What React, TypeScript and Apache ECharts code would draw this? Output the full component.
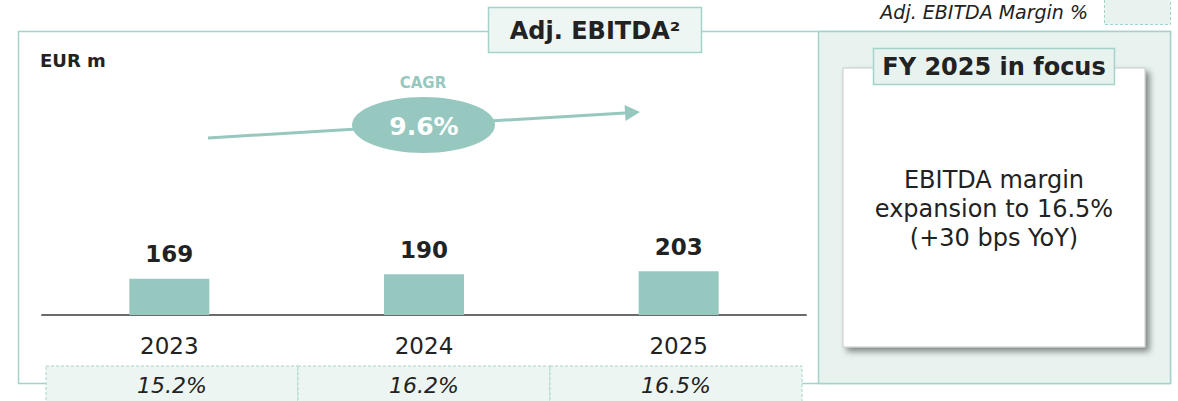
import React, { useEffect, useRef } from "react";
import * as echarts from "echarts";

const categories = ["2023", "2024", "2025"];
const ebitda = [169, 190, 203];
const margins = [15.2, 16.2, 16.5];
const cagrLabel = "CAGR";
const cagrValue = "9.6%";
const titleText = "Adj. EBITDA²";
const unitText = "EUR m";
const legendText = "Adj. EBITDA Margin %";
const focusTitle = "FY 2025 in focus";
const focusBody = ["EBITDA margin", "expansion to 16.5%", "(+30 bps YoY)"];

const FONT = '"DejaVu Sans", Verdana, sans-serif';
const TEAL = "#96c8c0";
const BORDER = "#a3d4ca";
const TXT = "#222222";

export default function App() {
  const ref = useRef<HTMLDivElement>(null);
  useEffect(() => {
    document.body.style.margin = "0";
    const chart = echarts.init(ref.current!, undefined, { renderer: "svg" });

    // arrow geometry
    const x1 = 208, y1 = 138, tx = 640, ty = 112;
    const dx = tx - x1, dy = ty - y1;
    const len = Math.sqrt(dx * dx + dy * dy);
    const ux = dx / len, uy = dy / len;
    const hl = 15, hw = 8;
    const bx = tx - ux * hl, by = ty - uy * hl;
    const px = -uy, py = ux;

    chart.setOption({
      animation: false,
      textStyle: { fontFamily: FONT },
      grid: { left: 42, right: 372, top: 100, bottom: 86 },
      xAxis: {
        type: "category",
        data: categories,
        axisLine: { lineStyle: { color: "#6b6b6b", width: 2 } },
        axisTick: { show: false },
        axisLabel: { fontSize: 23, color: TXT, margin: 19, fontFamily: FONT },
      },
      yAxis: { type: "value", min: 0, max: 1000, show: false, splitLine: { show: false } },
      series: [
        {
          type: "bar",
          data: ebitda,
          barWidth: 80,
          itemStyle: { color: TEAL },
          label: {
            show: true,
            position: "top",
            distance: 13,
            fontSize: 23,
            fontWeight: "bold",
            color: TXT,
            fontFamily: FONT,
          },
          z: 3,
        },
        {
          type: "custom",
          data: margins.map((m, i) => [i, m]),
          z: 4,
          renderItem: (params: any, api: any) => {
            const idx = api.value(0);
            const c = api.coord([idx, 0]);
            const bw = api.size([1, 0])[0];
            const inset = 4;
            const w = bw - (2 * inset) / 3;
            const gridLeft = c[0] - bw / 2 - idx * bw;
            const left = gridLeft + inset + idx * w;
            return {
              type: "group",
              children: [
                {
                  type: "rect",
                  shape: { x: left, y: c[1] + 51, width: w, height: 40 },
                  style: { fill: "#ecf5f2", stroke: BORDER, lineWidth: 1, lineDash: [3, 2] },
                },
                {
                  type: "text",
                  style: {
                    text: margins[idx].toFixed(1) + "%",
                    x: left + w / 2,
                    y: c[1] + 70,
                    align: "center",
                    verticalAlign: "middle",
                    font: `italic 22px ${FONT}`,
                    fill: TXT,
                  },
                },
              ],
            };
          },
        },
      ],
      graphic: [
        {
          type: "rect",
          z: 0,
          shape: { x: 18.5, y: 31.5, width: 1152, height: 352 },
          style: { fill: "none", stroke: BORDER, lineWidth: 1.5 },
        },
        {
          type: "rect",
          z: 1,
          shape: { x: 818.5, y: 31.5, width: 352, height: 352 },
          style: { fill: "#e8f2ef", stroke: BORDER, lineWidth: 1.5 },
        },
        {
          type: "rect",
          z: 5,
          shape: { x: 843, y: 68, width: 302, height: 279 },
          style: {
            fill: "#ffffff",
            stroke: "#c9c9c9",
            lineWidth: 1,
            shadowBlur: 6,
            shadowOffsetX: 4,
            shadowOffsetY: 4,
            shadowColor: "rgba(0,0,0,0.45)",
          },
        },
        {
          type: "rect",
          z: 6,
          shape: { x: 873.5, y: 48.5, width: 241, height: 36 },
          style: { fill: "#e8f2ef", stroke: BORDER, lineWidth: 1.5 },
        },
        {
          type: "text",
          z: 7,
          style: {
            text: focusTitle,
            x: 994,
            y: 67,
            align: "center",
            verticalAlign: "middle",
            font: `bold 24px ${FONT}`,
            fill: TXT,
          },
        },
        {
          type: "text",
          z: 7,
          style: {
            text: focusBody.join("\n"),
            x: 994,
            y: 209,
            align: "center",
            verticalAlign: "middle",
            font: `24px ${FONT}`,
            lineHeight: 29,
            fill: TXT,
          },
        },
        {
          type: "rect",
          z: 6,
          shape: { x: 488.5, y: 7.5, width: 213, height: 45 },
          style: { fill: "#eef6f3", stroke: BORDER, lineWidth: 1.5 },
        },
        {
          type: "text",
          z: 7,
          style: {
            text: titleText,
            x: 595,
            y: 31,
            align: "center",
            verticalAlign: "middle",
            font: `bold 24px ${FONT}`,
            fill: TXT,
          },
        },
        {
          type: "text",
          z: 7,
          style: {
            text: legendText,
            x: 1088,
            y: 12,
            align: "right",
            verticalAlign: "middle",
            font: `italic 19px ${FONT}`,
            fill: TXT,
          },
        },
        {
          type: "rect",
          z: 7,
          shape: { x: 1104.5, y: -2, width: 66, height: 26.5 },
          style: { fill: "#e8f2ef", stroke: BORDER, lineWidth: 1, lineDash: [3, 2] },
        },
        {
          type: "text",
          z: 7,
          style: {
            text: unitText,
            x: 40,
            y: 60,
            align: "left",
            verticalAlign: "middle",
            font: `bold 18px ${FONT}`,
            fill: TXT,
          },
        },
        {
          type: "line",
          z: 5,
          shape: { x1, y1, x2: bx, y2: by },
          style: { stroke: TEAL, lineWidth: 3 },
        },
        {
          type: "polygon",
          z: 5,
          shape: {
            points: [
              [tx, ty],
              [bx + px * hw, by + py * hw],
              [bx - px * hw, by - py * hw],
            ],
          },
          style: { fill: TEAL },
        },
        {
          type: "ellipse",
          z: 6,
          shape: { cx: 423.5, cy: 125, rx: 71.5, ry: 28 },
          style: { fill: TEAL },
        },
        {
          type: "text",
          z: 7,
          style: {
            text: cagrValue,
            x: 424,
            y: 126,
            align: "center",
            verticalAlign: "middle",
            font: `bold 25px ${FONT}`,
            fill: "#ffffff",
          },
        },
        {
          type: "text",
          z: 7,
          style: {
            text: cagrLabel,
            x: 423,
            y: 83,
            align: "center",
            verticalAlign: "middle",
            font: `bold 15px ${FONT}`,
            fill: TEAL,
          },
        },
      ],
    });
    return () => chart.dispose();
  }, []);
  return <div ref={ref} style={{ width: 1178, height: 401 }} />;
}
